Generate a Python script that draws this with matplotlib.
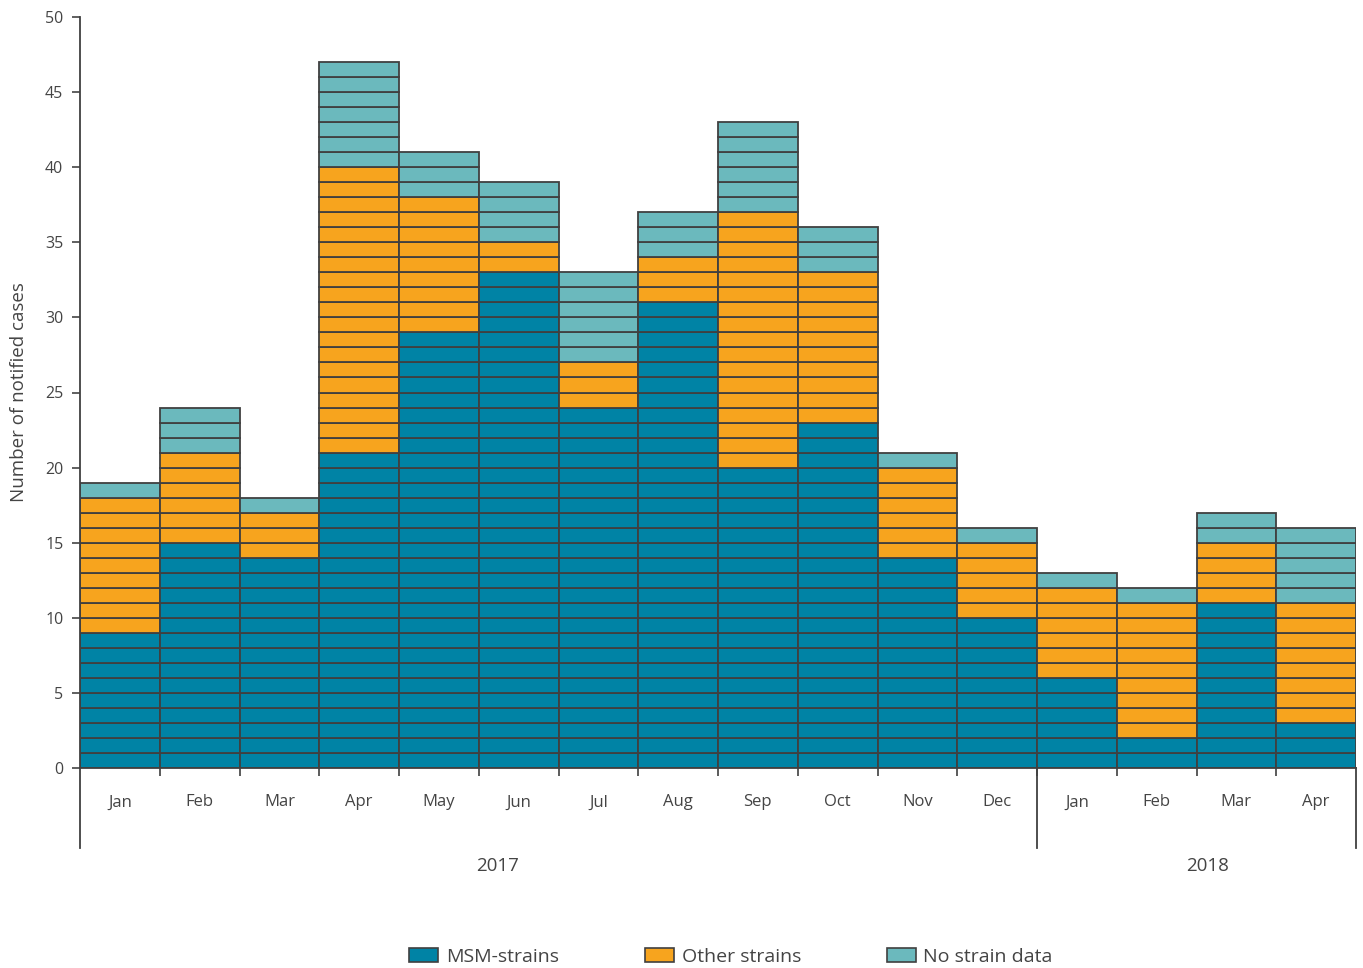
import matplotlib
matplotlib.use("Agg")
import matplotlib.pyplot as plt
from matplotlib.patches import Patch

plt.rcParams['font.family'] = ['Open Sans', 'DejaVu Sans']

months = ["Jan", "Feb", "Mar", "Apr", "May", "Jun", "Jul", "Aug",
          "Sep", "Oct", "Nov", "Dec", "Jan", "Feb", "Mar", "Apr"]
years = ["2017", "2018"]
year_sizes = [12, 4]

msm = [9, 15, 14, 21, 29, 33, 24, 31, 20, 23, 14, 10, 6, 2, 11, 3]
other = [9, 6, 3, 19, 9, 2, 3, 3, 17, 10, 6, 5, 6, 9, 4, 8]
nodata = [1, 3, 1, 7, 3, 4, 6, 3, 6, 3, 1, 1, 1, 1, 2, 5]

series = [("MSM-strains", msm, "#0083a5"),
          ("Other strains", other, "#f7a41e"),
          ("No strain data", nodata, "#6bb9bd")]

edge = "#404040"
txt = "#444444"

fig = plt.figure(figsize=(13.63, 9.68), dpi=100)
ax = fig.add_axes([80 / 1363, 200 / 968, 1276 / 1363, 751 / 968])

# every case is one block, stacked per month
for i in range(len(months)):
    base = 0
    for name, vals, col in series:
        for k in range(vals[i]):
            ax.bar(i, 1, bottom=base + k, width=1.0, color=col,
                   edgecolor=edge, linewidth=1.3)
        base += vals[i]

ax.set_xlim(-0.5, len(months) - 0.5)
ax.set_ylim(0, 50)
ax.set_yticks(range(0, 51, 5))
ax.tick_params(axis='y', labelsize=11.5, colors=txt, length=6, width=1.2, pad=6)
for lab in ax.get_yticklabels():
    lab.set_color(txt)

ax.set_xticks(range(len(months)))
ax.set_xticklabels(months)
ax.tick_params(axis='x', which='major', length=0, pad=19, labelsize=12, labelcolor=txt)
ax.set_xticks([i + 0.5 for i in range(len(months) - 1)], minor=True)
ax.tick_params(axis='x', which='minor', length=6, width=1.2, color=edge)

for s in ["top", "right"]:
    ax.spines[s].set_visible(False)
for s in ["left", "bottom"]:
    ax.spines[s].set_color(edge)
    ax.spines[s].set_linewidth(1.3)

ax.set_ylabel("Number of notified cases", fontsize=13.5, color=txt, labelpad=12)

# year separators and labels
depth = -(848 - 768) / 751
bounds = [-0.5]
for n in year_sizes:
    bounds.append(bounds[-1] + n)
trans = ax.get_xaxis_transform()
for b in bounds:
    ax.plot([b, b], [0, depth], color=edge, lw=1.3, transform=trans, clip_on=False)
year_x = [4.74, 13.64]
for xpos, y in zip(year_x, years):
    ax.text(xpos, -(866 - 768) / 751, y, transform=trans, ha='center', va='center',
            fontsize=13.5, color=txt)

handles = [Patch(facecolor=c, edgecolor=edge, linewidth=1.2, label=n) for n, v, c in series]
fig.legend(handles=handles, loc='center', bbox_to_anchor=(731 / 1363, 1 - 957 / 968),
           ncol=3, frameon=False, fontsize=14, handlelength=1.5, handleheight=0.7,
           handletextpad=0.4, columnspacing=4.4, labelcolor=txt)

fig.savefig("out.png", dpi=100)
